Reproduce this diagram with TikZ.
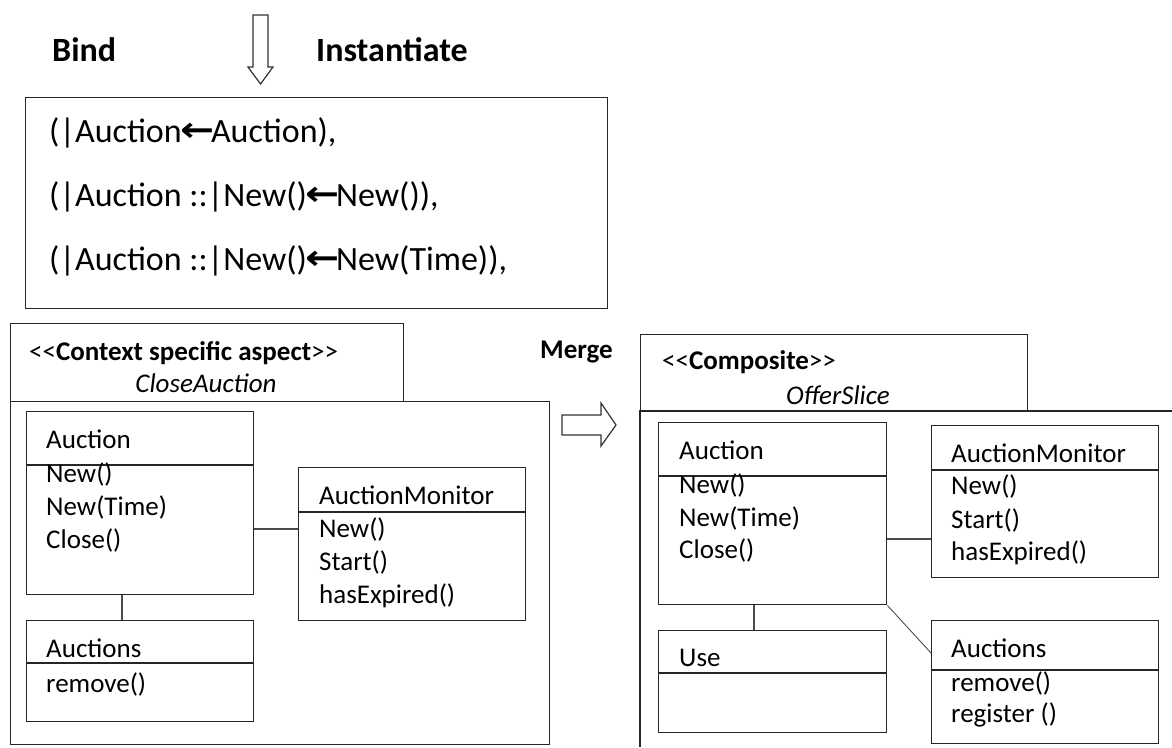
\documentclass[tikz,border=0pt]{standalone}
\usepackage{fontspec}
\usepackage{graphicx}
\setmainfont{Carlito}
\newfontfamily\arrowfont{DejaVu Sans}
\newcommand{\barrow}{\kern-1pt\raisebox{0.02em}{\scalebox{1.2}[1]{\arrowfont\bfseries ←}}\kern-4pt}
\begin{document}
\begin{tikzpicture}[x=1pt,y=-1pt,
  boxline/.style={draw=black!85, line width=1.4pt},
  cls/.style={boxline, inner sep=0pt, anchor=north west},
  conn/.style={draw=black!70, line width=1.2pt},
  txt/.style={anchor=west, inner sep=0pt, font=\fontsize{27}{32}\selectfont},
  big/.style={anchor=west, inner sep=0pt, font=\fontsize{34}{40}\selectfont},
  lbl/.style={anchor=west, inner sep=0pt, font=\fontsize{34}{40}\selectfont\bfseries},
  mrg/.style={anchor=west, inner sep=0pt, font=\fontsize{27}{32}\selectfont\bfseries},
  hollow/.style={draw=black!80, line width=1.2pt, fill=white}
]
\useasboundingbox (0,0) rectangle (1172,747);

% top labels and arrow
\node[lbl] (bind) at (52,50) {Bind};
\node[lbl] (inst) at (316,50) {Instantiate};
\draw[hollow] (253,15) -- (268,15) -- (268,67) -- (273,67) -- (260.5,84) -- (248,67) -- (253,67) -- cycle;

% binding box
\node[cls, minimum width=582pt, minimum height=211pt] (bbox) at (25,97) {};
\node[big] (b1) at (49,133) {(|Auction\barrow Auction),};
\node[big] (b2) at (49,197) {(|Auction ::|New()\barrow New()),};
\node[big] (b3) at (49,261) {(|Auction ::|New()\barrow New(Time)),};

% left package
\node[cls, minimum width=393pt, minimum height=78pt] (ltab) at (10,323) {};
\node[cls, minimum width=539pt, minimum height=343pt] (lbody) at (10,401) {};
\node[txt] (lster) at (29,353) {<\kern0pt<\textbf{Context specific aspect}>\kern0pt>};
\node[txt, anchor=center] (lname) at (206,383) {\itshape CloseAuction};

% left Auction
\node[cls, minimum width=227pt, minimum height=183pt] (la) at (26,411) {};
\draw[boxline] (26,465) -- (253,465);
\node[txt] (lat) at (46,439) {Auction};
\node[txt] (la1) at (46,474) {New()};
\node[txt] (la2) at (46,507) {New(Time)};
\node[txt] (la3) at (46,540) {Close()};

% left Auctions
\node[cls, minimum width=227pt, minimum height=101pt] (ls) at (26,620) {};
\draw[boxline] (26,663) -- (253,663);
\node[txt] (lst) at (46,648) {Auctions};
\node[txt] (ls1) at (46,684) {remove()};

% left AuctionMonitor
\node[cls, minimum width=227pt, minimum height=153pt] (lm) at (298,467) {};
\draw[boxline] (298,512) -- (525,512);
\node[txt] (lmt) at (319,495) {AuctionMonitor};
\node[txt] (lm1) at (319,529) {New()};
\node[txt] (lm2) at (319,562) {Start()};
\node[txt] (lm3) at (319,596) {hasExpired()};

\draw[conn] ([xshift=96pt]la.south west) -- ([xshift=96pt]ls.north west);
\draw[conn] (la.east |- 0,529) -- (lm.west |- 0,529);

% merge
\node[mrg] (merge) at (540,352) {Merge};
\draw[hollow] (562,415) -- (601,415) -- (601,403) -- (616,425) -- (601,446) -- (601,435) -- (562,435) -- cycle;

% right package
\node[cls, minimum width=387pt, minimum height=77pt] (rtab) at (640,334) {};
\draw[boxline] (1172,411) -- (640,411) -- (640,747);
\node[txt] (rster) at (662,362) {<\kern0pt<\textbf{Composite}>\kern0pt>};
\node[txt, anchor=center] (rname) at (838,395) {\itshape OfferSlice};

% right Auction
\node[cls, minimum width=228pt, minimum height=182pt] (ra) at (658,422) {};
\draw[boxline] (658,476) -- (886,476);
\node[txt] (rat) at (679,450) {Auction};
\node[txt] (ra1) at (679,485) {New()};
\node[txt] (ra2) at (679,518) {New(Time)};
\node[txt] (ra3) at (679,550) {Close()};

% right Use
\node[cls, minimum width=228pt, minimum height=102pt] (ru) at (658,630) {};
\draw[boxline] (658,673) -- (886,673);
\node[txt] (rut) at (679,658) {Use};

% right AuctionMonitor
\node[cls, minimum width=227pt, minimum height=152pt] (rm) at (931,425) {};
\draw[boxline] (931,470) -- (1158,470);
\node[txt] (rmt) at (951,453) {AuctionMonitor};
\node[txt] (rm1) at (951,486) {New()};
\node[txt] (rm2) at (951,520) {Start()};
\node[txt] (rm3) at (951,553) {hasExpired()};

% right Auctions
\node[cls, minimum width=227pt, minimum height=123pt] (rs) at (931,620) {};
\draw[boxline] (931,670) -- (1158,670);
\node[txt] (rst) at (951,648) {Auctions};
\node[txt] (rs1) at (951,683) {remove()};
\node[txt] (rs2) at (951,715) {register ()};

\draw[conn] ([xshift=96pt]ra.south west) -- ([xshift=96pt]ru.north west);
\draw[conn] (ra.east |- 0,539) -- (rm.west |- 0,539);
\draw[conn, line width=0.9pt] (ra.south east) -- (rs.west |- 0,653);
\end{tikzpicture}
\end{document}
